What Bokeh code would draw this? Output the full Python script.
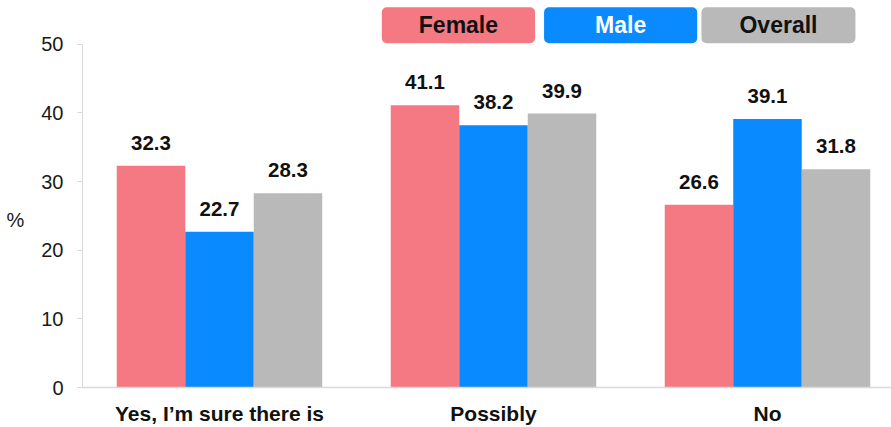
from bokeh.plotting import figure
from bokeh.models import Range1d, FixedTicker, ColumnDataSource, LabelSet, Label
from bokeh.transform import dodge
from bokeh.core.properties import value
from bokeh.embed import file_html
from bokeh.resources import INLINE

categories = ["Yes, I\u2019m sure there is", "Possibly", "No"]
series = ["Female", "Male", "Overall"]
female = [32.3, 41.1, 26.6]
male = [22.7, 38.2, 39.1]
overall = [28.3, 39.9, 31.8]
y_ticks = [0, 10, 20, 30, 40, 50]

colors = {"Female": "#F47983", "Male": "#0A8AFF", "Overall": "#B9B9B9"}
legend_text_colors = {"Female": "#111111", "Male": "#FFFFFF", "Overall": "#111111"}
FONT = "Liberation Sans"

xs = list(range(len(categories)))
src = ColumnDataSource(dict(
    x=xs, Female=female, Male=male, Overall=overall,
    Female_t=[f"{v:.1f}" for v in female],
    Male_t=[f"{v:.1f}" for v in male],
    Overall_t=[f"{v:.1f}" for v in overall],
))

p = figure(width=891, height=427, output_backend="svg", toolbar_location=None,
           x_range=Range1d(-0.5, 2.4526), y_range=Range1d(0, 56.36),
           min_border_left=82, min_border_right=0, min_border_top=0, min_border_bottom=37)
p.outline_line_color = None
p.xgrid.grid_line_color = None
p.ygrid.grid_line_color = None
p.background_fill_color = "white"
p.border_fill_color = "white"

offsets = [-0.25, 0.0, 0.25]
for s, off in zip(series, offsets):
    p.vbar(x=dodge("x", off, range=p.x_range), top=s, width=0.25, source=src,
           fill_color=colors[s], line_color=None)
    labels = LabelSet(x=dodge("x", off, range=p.x_range), y=s, text=s + "_t", source=src,
                      text_align="center", text_baseline="bottom", y_offset=16,
                      text_font=value(FONT), text_font_style="bold",
                      text_font_size="20.5px", text_color="#111111")
    p.add_layout(labels)

# axes
p.yaxis.ticker = FixedTicker(ticks=y_ticks)
p.yaxis.bounds = (0, 50)
p.yaxis.axis_line_color = "#D9D9D9"
p.yaxis.major_tick_line_color = "#D9D9D9"
p.yaxis.major_tick_out = 5
p.yaxis.major_tick_in = 0
p.yaxis.minor_tick_line_color = None
p.yaxis.major_label_standoff = 14
p.yaxis.major_label_text_font = FONT
p.yaxis.major_label_text_font_size = "20px"
p.yaxis.major_label_text_color = "#1a1a1a"
p.yaxis.axis_label = "\n\n%"
p.yaxis.axis_label_text_font = FONT
p.yaxis.axis_label_text_font_style = "normal"
p.yaxis.axis_label_text_font_size = "20px"
p.yaxis.axis_label_text_color = "#1a1a1a"
p.yaxis.axis_label_standoff = 14
try:
    p.yaxis.axis_label_orientation = "horizontal"
except Exception:
    pass

p.xaxis.ticker = FixedTicker(ticks=xs)
p.xaxis.major_label_overrides = {i: c for i, c in enumerate(categories)}
p.xaxis.axis_line_color = "#D9D9D9"
p.xaxis.axis_line_width = 1.5
p.xaxis.major_tick_line_color = None
p.xaxis.minor_tick_line_color = None
p.xaxis.major_label_standoff = 8
p.xaxis.major_label_text_font = FONT
p.xaxis.major_label_text_font_style = "bold"
p.xaxis.major_label_text_font_size = "21px"
p.xaxis.major_label_text_color = "#111111"

# legend boxes
legend_x = [0.872, 1.464, 2.040]
legend_pad = [(37, 5), (51, 5), (38, 5)]
for s, lx, pad in zip(series, legend_x, legend_pad):
    p.add_layout(Label(x=lx, y=52.75, text=s, text_align="center", text_baseline="middle",
                       text_font=FONT, text_font_style="bold", text_font_size="23px",
                       text_color=legend_text_colors[s],
                       background_fill_color=colors[s], border_line_color=None,
                       padding=pad, border_radius=5))

open("out.html", "w").write(file_html(p, INLINE))
